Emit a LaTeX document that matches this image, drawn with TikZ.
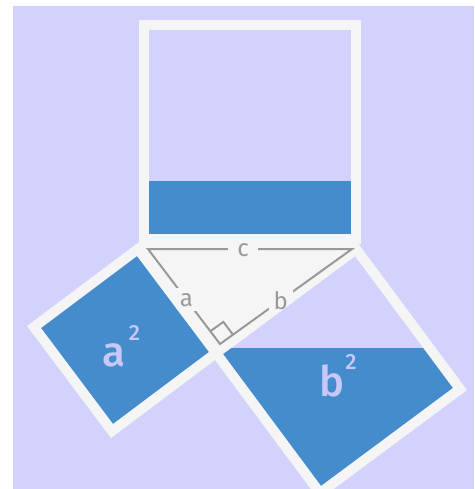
\documentclass[tikz,border=0pt]{standalone}
\usepackage{fontspec}
\setmainfont{Fira Sans}
\newfontfamily\medfont{Fira Sans Medium}
\usetikzlibrary{calc}

\definecolor{lavender}{RGB}{210,210,252}
\definecolor{sqblue}{RGB}{68,140,204}
\definecolor{paper}{RGB}{245,245,245}
\definecolor{edge}{RGB}{153,153,153}
\definecolor{lbl}{RGB}{200,200,248}

\tikzset{
  frame/.style={draw=paper, line width=10pt},
  sqlabel/.style={text=lbl, font=\medfont\fontsize{42}{42}\selectfont, inner sep=0pt},
  sqexp/.style={text=lbl, font=\medfont\fontsize{22}{22}\selectfont, inner sep=0pt},
  side/.style={draw=edge, line width=2pt},
  sidelabel/.style={fill=paper, text=edge, font=\fontsize{24}{24}\selectfont, inner sep=5pt},
}

\begin{document}
\begin{tikzpicture}[x=1pt,y=-1pt]
\useasboundingbox (0,0) rectangle (474,489);
\clip (0,0) rectangle (474,489);
\fill[white] (0,0) rectangle (474,489);
\fill[lavender] (13,6) rectangle (474,489);

% square on the hypotenuse
\fill[sqblue] (143.5,181) rectangle (356,239);
\draw[frame] (143.5,25) rectangle (356,239);

% the triangle
\coordinate (A) at (138,249);
\coordinate (B) at (356,249);
\coordinate (C) at (216,353);
\filldraw[paper, line width=10pt, line join=round] (A) -- (C) -- (B) -- cycle;

% square on a
\filldraw[frame, fill=sqblue] (A) -- (C) -- (112,431) -- (34,327) -- cycle;

% square on b
\begin{scope}
\clip (C) -- (B) -- (460,389) -- (320,493) -- cycle;
\fill[sqblue] (0,348) rectangle (474,500);
\end{scope}
\draw[frame] (C) -- (B) -- (460,389) -- (320,493) -- cycle;

\node[sqlabel] (asq) at (113.5,355) {a};
\node[sqexp] (asqexp) at (134.5,333) {2};
\node[sqlabel] (bsq) at (332.5,381) {b};
\node[sqexp] (bsqexp) at (351,362) {2};

% sides with labels
\coordinate (g1) at (148,249);
\coordinate (g2) at (352,249);
\coordinate (g3) at (220,344);
\begin{scope}
\clip (124,238) -- (215,360) -- (378,238) -- cycle;
\draw[side] (g1) -- node[sidelabel, pos=0.466, inner xsep=9pt, yshift=-1pt] (lc) {c}
  (g2) -- node[sidelabel, pos=0.54] (lb) {b}
  (g3) -- node[sidelabel, pos=0.465] (la) {a} cycle;
\end{scope}

% right angle
\coordinate (ra1) at ($(g3)!16pt!(g1)$);
\coordinate (ra3) at ($(g3)!16pt!(g2)$);
\coordinate (ra2) at ($(ra1)+(ra3)-(g3)$);
\draw[side] (ra1) -- (ra2) -- (ra3);
\end{tikzpicture}
\end{document}
